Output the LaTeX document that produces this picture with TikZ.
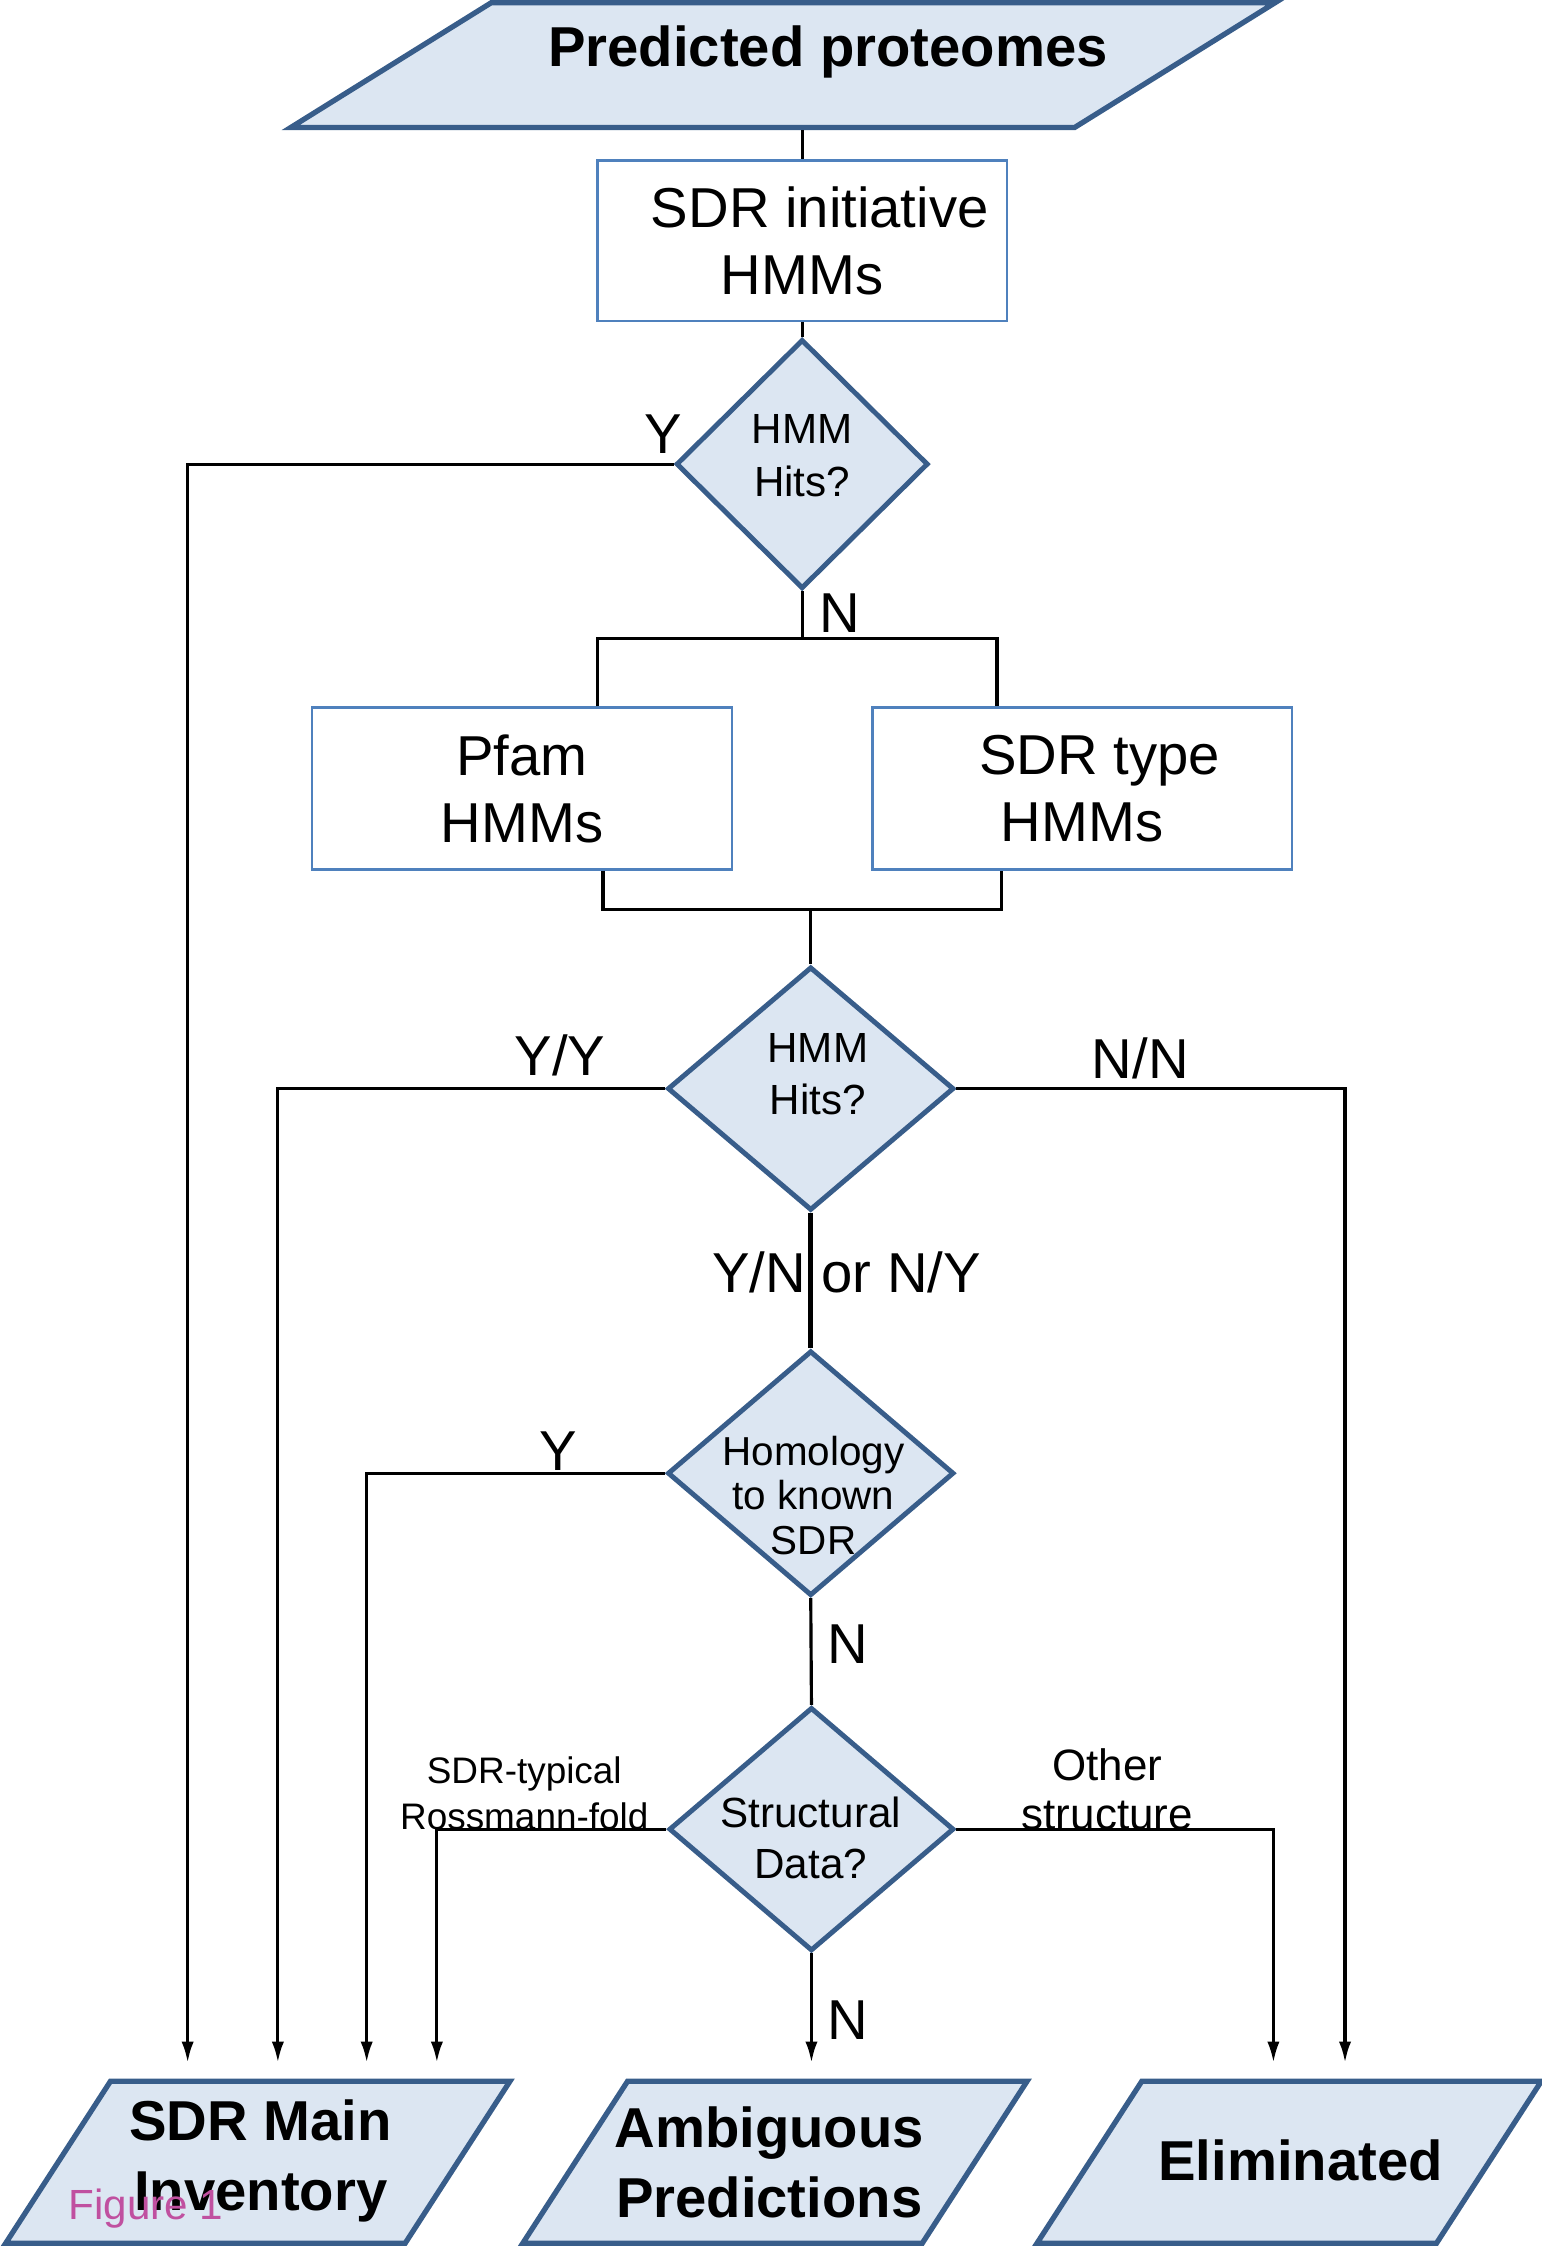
\documentclass[tikz,border=0pt]{standalone}
\usepackage{fontspec}
\setmainfont{Liberation Sans}
\usetikzlibrary{shapes.geometric,arrows.meta}
\definecolor{shapefill}{RGB}{220,230,242}
\definecolor{shapeline}{RGB}{56,93,138}
\definecolor{boxline}{RGB}{79,129,189}
\definecolor{figpink}{RGB}{192,80,160}
\newdimen\px \px=0.14322mm

\begin{document}
\begin{tikzpicture}[
        x=0.14322mm, y=-0.14322mm,
        every node/.style = {align=center, inner sep=0pt},
        datashape/.style = {shape=trapezium, trapezium stretches body=true, inner xsep=2pt, draw=shapeline, line width=1.5pt, fill=shapefill},
        outshape/.style = {datashape, trapezium left angle=57.1, trapezium right angle=122.9, minimum width=352\px, minimum height=113\px, inner ysep=56.5\px},
        outtext/.style = {font=\fontsize{16}{20}\selectfont\bfseries},
        hmmbox/.style = {shape=rectangle, draw=boxline, line width=0.7pt, font=\fontsize{16}{19}\selectfont},
        decision/.style = {shape=diamond, inner sep=2pt, draw=shapeline, line width=1.4pt, fill=shapefill},
        dtext/.style = {font=\fontsize{12}{15}\selectfont},
        lbl/.style = {font=\fontsize{16}{19}\selectfont},
        link/.style = {line width=0.9pt},
        flow/.style = {link, -{Latex[length=6pt,width=3.5pt]}}
    ]
    \useasboundingbox (0,0) rectangle (1076,1568);

    % shapes
    \node[datashape, trapezium left angle=31.9, trapezium right angle=148.1, minimum width=687\px, minimum height=87\px, inner ysep=43.5\px] (prot) at (546.5,45.5) {};
    \node[outtext] (prottitle) at (578,36) {Predicted proteomes};
    \node[hmmbox, minimum width=286\px, minimum height=112\px] (sdrinit) at (560,168) {\hspace*{10pt}SDR initiative\\HMMs};
    \node[decision, minimum width=176\px, minimum height=174\px] (hmmA) at (560,324) {};
    \node[dtext] (hmmAtext) at (560,318) {HMM\\Hits?};
    \node[hmmbox, minimum width=293\px, minimum height=113\px] (pfam) at (364.5,550.5) {Pfam\\HMMs};
    \node[hmmbox, minimum width=293\px, minimum height=113\px] (sdrtype) at (755.5,550.5) {\hspace*{10pt}SDR type\\HMMs};
    \node[decision, minimum width=200\px, minimum height=170\px] (hmmB) at (566,760) {};
    \node[dtext] (hmmBtext) at (571,750) {HMM\\Hits?};
    \node[decision, minimum width=200\px, minimum height=171\px] (homol) at (566,1028.5) {};
    \node[font=\fontsize{11.5}{12.6}\selectfont] (homoltext) at (568,1044) {Homology\\to known\\SDR};
    \node[decision, minimum width=199\px, minimum height=170\px] (struct) at (566.5,1277) {};
    \node[font=\fontsize{12}{14.7}\selectfont] (structtext) at (566,1283) {Structural\\Data?};
    \node[outshape] (maininv) at (180,1509.5) {};
    \node[outtext] (maininvtext) at (182,1508.5) {SDR Main\\Inventory};
    \node[outshape] (ambig) at (541,1509.5) {};
    \node[outtext] (ambigtext) at (537,1509.5) {Ambiguous\\Predictions};
    \node[outshape] (elim) at (900,1509.5) {};
    \node[outtext] (elimtext) at (908,1508) {Eliminated};
    \node[font=\fontsize{12}{14}\selectfont, text=figpink] (figlabel) at (102,1542) {Figure 1};

    % arrow ends
    \coordinate (endA) at (131,1440);
    \coordinate (endB) at (194,1440);
    \coordinate (endC) at (256,1440);
    \coordinate (endD) at (305,1440);
    \coordinate (endF) at (889,1440);
    \coordinate (endE) at (939,1440);
    \coordinate (splitL) at (417,446);
    \coordinate (splitR) at (696,446);
    \coordinate (joinL) at (421,635);
    \coordinate (joinR) at (699,635);

    % connectors
    \draw[link] (sdrinit.north |- prot.south) -- (sdrinit.north);
    \draw[link] (sdrinit.south) -- (hmmA.north);
    \draw[flow] (hmmA.west) -| (endA);
    \node[lbl] (yA) at (463,303) {Y};
    \draw[link] (hmmA.south) -- (hmmA.south |- splitL);
    \draw[link] (splitL |- pfam.north) -- (splitL) -- (splitR) -- (splitR |- sdrtype.north);
    \node[lbl] (nA) at (586,428) {N};
    \draw[link] (joinL |- pfam.south) -- (joinL) -- (joinR) -- (joinR |- sdrtype.south);
    \draw[link] (hmmB.north |- joinL) -- (hmmB.north);
    \draw[flow] (hmmB.west) -| (endB);
    \draw[flow] (hmmB.east) -| (endE);
    \node[lbl] (yyB) at (391,737) {Y/Y};
    \node[lbl] (nnB) at (796,739) {N/N};
    \draw[link, line width=1.4pt] (hmmB.south) -- (homol.north);
    \node[lbl] (ynB) at (591,888) {Y/N or N/Y};
    \draw[flow] (homol.west) -| (endC);
    \node[lbl] (yC) at (390,1013) {Y};
    \draw[link] (homol.south) -- (struct.north);
    \node[lbl] (nC) at (592,1148) {N};
    \draw[flow] (struct.west) -| (endD);
    \draw[flow] (struct.east) -| (endF);
    \draw[flow] (struct.south) -- (struct.south |- endA);
    \node[font=\fontsize{10.5}{13}\selectfont] (rossfold) at (366,1252) {SDR-typical\\Rossmann-fold};
    \node[font=\fontsize{12.5}{14}\selectfont] (otherstr) at (773,1249) {Other\\structure};
    \node[lbl] (nD) at (592,1410) {N};
\end{tikzpicture}
\end{document}
